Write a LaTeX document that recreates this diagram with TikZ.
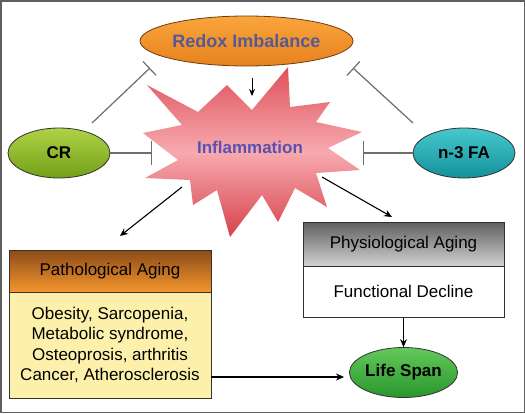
\documentclass[tikz,border=0pt]{standalone}
\usepackage{fontspec}
\setmainfont{Liberation Sans}
\usetikzlibrary{shapes.geometric,arrows.meta,calc}
\definecolor{frame}{RGB}{95,95,95}
\definecolor{inhib}{RGB}{110,110,110}
\definecolor{redoxtxt}{RGB}{85,90,150}
\definecolor{infltxt}{RGB}{90,80,175}
\definecolor{orangeA}{RGB}{250,165,60}
\definecolor{orangeB}{RGB}{230,130,30}
\definecolor{brownline}{RGB}{110,60,15}
\definecolor{greenA}{RGB}{175,210,70}
\definecolor{greenB}{RGB}{115,160,25}
\definecolor{tealA}{RGB}{70,200,205}
\definecolor{tealB}{RGB}{20,145,155}
\definecolor{lifeA}{RGB}{100,200,90}
\definecolor{lifeB}{RGB}{40,150,45}
\definecolor{starA}{RGB}{222,80,90}
\definecolor{starM}{RGB}{247,170,175}
\definecolor{starB}{RGB}{215,65,75}
\definecolor{pathTop}{RGB}{140,75,25}
\definecolor{pathBot}{RGB}{245,150,45}
\definecolor{pathBody}{RGB}{252,240,170}
\definecolor{physTop}{RGB}{95,95,95}
\definecolor{physBot}{RGB}{210,210,210}
\definecolor{boxline}{RGB}{50,50,50}
\tikzset{
  ell/.style={ellipse, inner sep=0pt, draw=black!80, line width=0.8pt, font=\fontsize{17}{20}\selectfont\bfseries},
  inhibit/.style={draw=inhib, line width=1.2pt, -{Bar[width=#1, line width=1.2pt]}},
  arr/.style={draw=black, line width=1.1pt, -{Stealth[length=8pt, width=7pt]}},
  boxpart/.style={rectangle, draw=boxline, line width=1pt, minimum width=#1, inner sep=0pt, font=\fontsize{17}{20.5}\selectfont, align=center}
}
\begin{document}
\begin{tikzpicture}[x=1pt, y=-1pt]
\useasboundingbox (0,0) rectangle (525,413);
\fill[white] (0,0) rectangle (525,413);
\draw[frame, line width=1.5pt] (0.75,0.75) rectangle (524.25,412.25);

% star (Inflammation)
\shade[top color=starA, bottom color=starB, middle color=starM]
  (147,85) -- (198,112) -- (227,85) -- (252,110) -- (288,67) -- (290,107)
  -- (330,102) -- (316,122) -- (362,132) -- (328,148) -- (360,170)
  -- (316,173) -- (327,207) -- (295,188) -- (278,222) -- (262,195)
  -- (230,237) -- (217,190) -- (193,205) -- (190,180) -- (145,178)
  -- (178,160) -- (143,133) -- (182,125) -- cycle;
\node[font=\fontsize{17}{20}\selectfont\bfseries, text=infltxt] (infl) at (250,147) {Inflammation};

% ellipses
\node[ell, minimum width=213pt, minimum height=50pt, top color=orangeA, bottom color=orangeB, draw=brownline, text=redoxtxt, font=\fontsize{18}{20}\selectfont\bfseries] (redox) at (246.5,41) {Redox Imbalance};
\node[ell, minimum width=102pt, minimum height=50pt, top color=greenA, bottom color=greenB] (cr) at (59,153) {CR};
\node[ell, minimum width=102pt, minimum height=50pt, top color=tealA, bottom color=tealB] (n3) at (464,153) {n-3 FA};
\node[ell, minimum width=103pt, minimum height=50pt, top color=lifeA, bottom color=lifeB] (life) at (403.5,372.5) {Life Span};

% boxes
\node[boxpart=202pt, minimum height=42pt, top color=pathTop, bottom color=pathBot] (pathH) at (110,271) {Pathological Aging};
\node[boxpart=202pt, minimum height=106pt, fill=pathBody] (pathB) at (110,345) {Obesity, Sarcopenia,\\Metabolic syndrome,\\Osteoprosis, arthritis\\Cancer, Atherosclerosis};
\node[boxpart=201pt, minimum height=44pt, top color=physTop, bottom color=physBot] (physH) at (403.5,244) {Physiological Aging};
\node[boxpart=201pt, minimum height=51pt, fill=white] (physB) at (403.5,291.5) {Functional Decline};

% connector end points
\coordinate (crT) at (92,123);
\coordinate (redL) at (150,68);
\coordinate (n3T) at (413,123);
\coordinate (redR) at (353,68);
\coordinate (barL) at (152,153);
\coordinate (barR) at (363,153);
\coordinate (rdA) at (252,78);
\coordinate (rdB) at (252,96);
\coordinate (inA) at (182,187);
\coordinate (inB) at (120,236);
\coordinate (inC) at (322,177);
\coordinate (inD) at (392,217);
\coordinate (pl) at (211,377);
\coordinate (ll) at (344,377);

% inhibitions
\draw[inhibit=19pt] (crT) -- (redL);
\draw[inhibit=19pt] (n3T) -- (redR);
\draw[inhibit=24pt] (cr.east) -- (barL);
\draw[inhibit=24pt] (n3.west) -- (barR);

% arrows
\draw[draw=black, line width=1pt, -{Stealth[length=7pt, width=6pt]}] (rdA) -- (rdB);
\draw[arr] (inA) -- (inB);
\draw[arr] (inC) -- (inD);
\draw[arr] (physB.south) -- (life.north);
\draw[arr] (pl) -- (ll);
\end{tikzpicture}
\end{document}
